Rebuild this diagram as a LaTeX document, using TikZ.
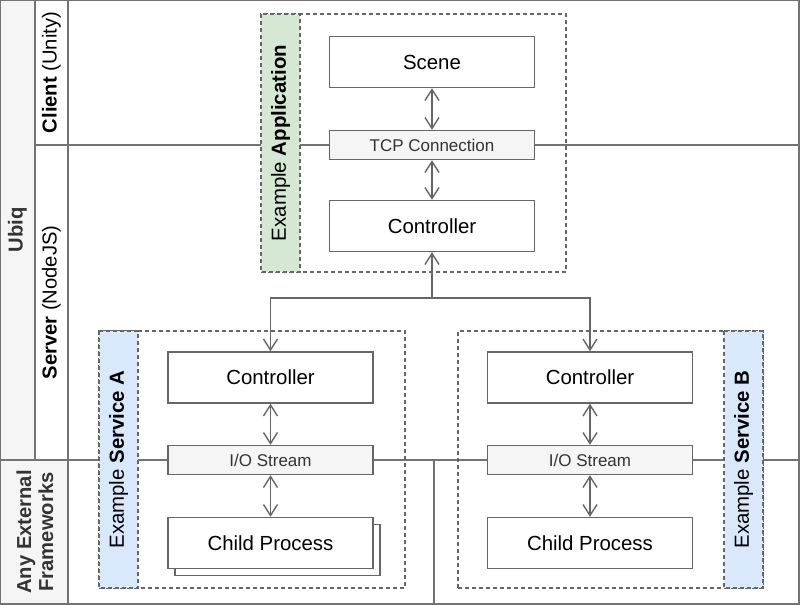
\documentclass[tikz,border=0pt]{standalone}
\usepackage{fontspec}
\setmainfont{Liberation Sans}
\usetikzlibrary{arrows.meta}
\definecolor{cline}{HTML}{666666}
\definecolor{clane}{HTML}{737373}
\definecolor{cgray}{HTML}{F5F5F5}
\definecolor{cgreen}{HTML}{D5E8D4}
\definecolor{cblue}{HTML}{DAE8FC}
\definecolor{ctxt}{HTML}{333333}
\tikzset{
  lane/.style={draw=clane, line width=1.3pt},
  box/.style={draw=cline, line width=1.4pt, fill=white, minimum width=205pt, minimum height=51pt, inner sep=0pt, font=\fontsize{20.4}{24}\selectfont},
  bar/.style={box, fill=cgray, minimum height=29pt, text=ctxt, font=\fontsize{17}{20}\selectfont},
  group/.style={draw=cline, line width=1.2pt, dash pattern=on 4pt off 3pt, inner sep=0pt},
  strip/.style={group, rotate=90, minimum height=39pt, font=\fontsize{20.4}{24}\selectfont},
  lanelabel/.style={rotate=90, inner sep=0pt, font=\fontsize{20.2}{24}\selectfont},
  conn/.style={draw=cline, line width=1.4pt},
  tip/.style={-{Straight Barb[length=11pt,width=14pt]}},
  dtip/.style={{Straight Barb[length=11pt,width=14pt]}-{Straight Barb[length=11pt,width=14pt]}}
}
\begin{document}
\begin{tikzpicture}[x=1pt,y=-1pt]
\useasboundingbox (0,0) rectangle (800,605);
% lane fills
\fill[cgray] (0,0) rectangle (35,460);
\fill[cgray] (0,460) rectangle (68,604);
% lane lines
\draw[lane] (0,0) rectangle (799,604);
\draw[lane] (35,0) -- (35,460);
\draw[lane] (68,0) -- (68,604);
\draw[lane] (35,145) -- (799,145);
\draw[lane] (0,460) -- (799,460);
\draw[lane] (434,460) -- (434,604);
% lane labels
\node[lanelabel, text=ctxt] (ubiq) at (17.5,230) {\textbf{Ubiq}};
\node[lanelabel] (client) at (51.5,72.5) {\textbf{Client} (Unity)};
\node[lanelabel] (server) at (51.5,302.5) {\textbf{Server} (NodeJS)};
\node[lanelabel, text=ctxt, align=center, font=\fontsize{20.2}{22}\selectfont\bfseries] (ext) at (35,532) {Any External\\Frameworks};
% Example Application
\node[group, minimum width=305pt, minimum height=258pt] (app) at (413.5,143) {};
\node[strip, fill=cgreen, minimum width=258pt] (appstrip) at (280.5,143) {Example \textbf{Application}};
\node[box] (scene) at (432,62) {Scene};
\node[bar] (tcp) at (432,145) {TCP Connection};
\node[box] (appctrl) at (432,226) {Controller};
% Example Service A
\node[group, minimum width=306pt, minimum height=257pt] (sa) at (252,459.5) {};
\node[strip, fill=cblue, minimum width=257pt] (sastrip) at (118.5,459.5) {Example \textbf{Service A}};
\node[box] (ctrla) at (270.5,377.5) {Controller};
\node[bar] (ioa) at (270.5,460) {I/O Stream};
\node[box] (childashadow) at (277.5,550) {};
\node[box] (childa) at (270.5,543) {Child Process};
% Example Service B
\node[group, minimum width=305pt, minimum height=257pt] (sb) at (610.5,459.5) {};
\node[strip, fill=cblue, minimum width=257pt] (sbstrip) at (743.5,459.5) {Example \textbf{Service B}};
\node[box] (ctrlb) at (590,377.5) {Controller};
\node[bar] (iob) at (590,460) {I/O Stream};
\node[box] (childb) at (590,543) {Child Process};
% connectors
\draw[conn, dtip] (scene) -- (tcp);
\draw[conn, dtip] (tcp) -- (appctrl);
\draw[conn, dtip] (ctrla) -- (ioa);
\draw[conn, dtip] (ioa) -- (childa);
\draw[conn, dtip] (ctrlb) -- (iob);
\draw[conn, dtip] (iob) -- (childb);
\coordinate (bus) at (432,298);
\draw[conn, tip] (bus) -- (appctrl);
\draw[conn, tip] (bus) -| (ctrla);
\draw[conn, tip] (bus) -| (ctrlb);
\end{tikzpicture}
\end{document}
